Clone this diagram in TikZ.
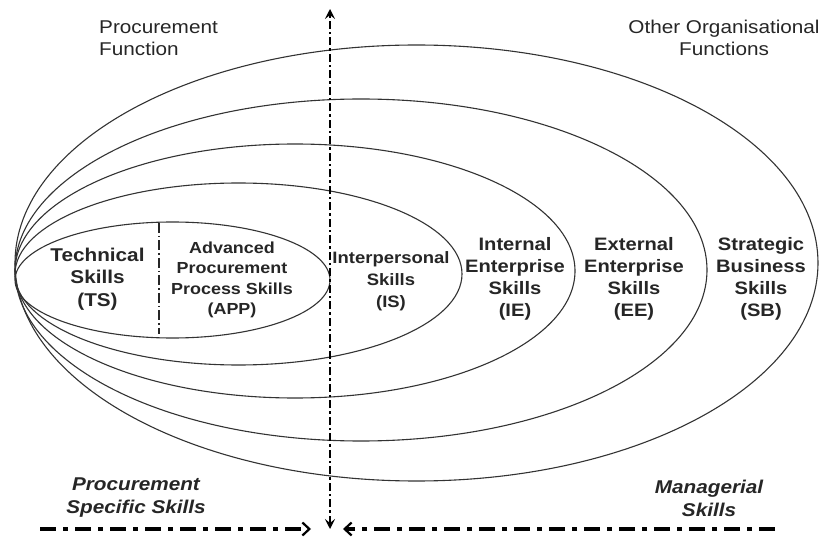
\documentclass[tikz,border=0pt]{standalone}
\usepackage{fontspec}
\setmainfont{Liberation Sans}[FakeStretch=1.12]
\usetikzlibrary{shapes.geometric,arrows.meta}
\definecolor{ink}{HTML}{262626}
\definecolor{lineink}{HTML}{333333}
\tikzset{
  ring/.style={ellipse, draw=lineink, line width=1.1pt, inner sep=0pt, fill=none},
  toplabel/.style={text=ink, inner sep=0pt, font=\fontsize{18.5}{22}\selectfont},
  bigskill/.style={text=ink, inner sep=0pt, align=center, font=\bfseries\fontsize{18}{22}\selectfont},
  ts/.style={text=ink, inner sep=0pt, align=center, font=\bfseries\fontsize{18.5}{22.5}\selectfont},
  app/.style={text=ink, inner sep=0pt, align=center, font=\bfseries\fontsize{16}{20.3}\selectfont},
  isk/.style={text=ink, inner sep=0pt, align=center, font=\bfseries\fontsize{16.5}{22}\selectfont},
  bottomlabel/.style={text=ink, inner sep=0pt, align=center, font=\bfseries\itshape\fontsize{18.5}{23}\selectfont},
  axisline/.style={draw=black, line width=2.8pt, dash pattern=on 8pt off 3pt on 2.5pt off 3pt,
    {Stealth[length=10pt,width=10pt,inset=4pt]}-{Stealth[length=10pt,width=10pt,inset=4pt]}},
  flowline/.style={draw=black, line width=4.5pt, dash pattern=on 16pt off 7pt on 5pt off 7pt,
    -{Straight Barb[length=7pt,width=13pt,line width=2.2pt]}},
  divider/.style={draw=ink, line width=1.2pt, dash pattern=on 10pt off 3pt on 1.5pt off 3pt}
}
\begin{document}
\begin{tikzpicture}[x=1pt,y=-1pt]
\useasboundingbox (0,0) rectangle (822,537);
\fill[white] (0,0) rectangle (822,537);

% nested ellipses
\node[ring, minimum width=803pt, minimum height=436pt] (sb) at (416.5,263) {};
\node[ring, minimum width=692pt, minimum height=342pt] (ee) at (361,270) {};
\node[ring, minimum width=560pt, minimum height=254pt] (ie) at (295,271) {};
\node[ring, minimum width=447pt, minimum height=182pt] (is) at (238.5,274) {};
\node[ring, minimum width=315pt, minimum height=116pt] (app) at (172.5,280) {};

% divider inside innermost ellipse
\coordinate (dtop) at (159,223);
\coordinate (dbot) at (159,334);
\draw[divider] (dtop) -- (dbot);

% vertical axis
\coordinate (vtop) at (330,9);
\coordinate (vbot) at (330,529);
\draw[axisline] (vbot) -- (vtop);

% bottom arrows
\coordinate (lstart) at (40,529);
\coordinate (ltip) at (311,529);
\coordinate (rstart) at (775,529);
\coordinate (rtip) at (343,529);
\draw[flowline] (lstart) -- (ltip);
\draw[flowline] (rstart) -- (rtip);

% top labels
\node[toplabel, anchor=west, align=left] (pf) at (99,38) {Procurement\\Function};
\node[toplabel, align=center] (oof) at (724,38) {Other Organisational\\Functions};

% skill labels
\node[ts] (tsl) at (97.5,279) {Technical\\Skills\\(TS)};
\node[app] (appl) at (232,280) {Advanced\\Procurement\\Process Skills\\(APP)};
\node[isk] (isl) at (391,281) {Interpersonal\\Skills\\(IS)};
\node[bigskill] (iel) at (515,279) {Internal\\Enterprise\\Skills\\(IE)};
\node[bigskill] (eel) at (634,279) {External\\Enterprise\\Skills\\(EE)};
\node[bigskill] (sbl) at (761,279) {Strategic\\Business\\Skills\\(SB)};

% bottom labels
\node[bottomlabel] (pss) at (136,498) {Procurement\\Specific Skills};
\node[bottomlabel] (ms) at (709,498) {Managerial\\Skills};
\end{tikzpicture}
\end{document}
